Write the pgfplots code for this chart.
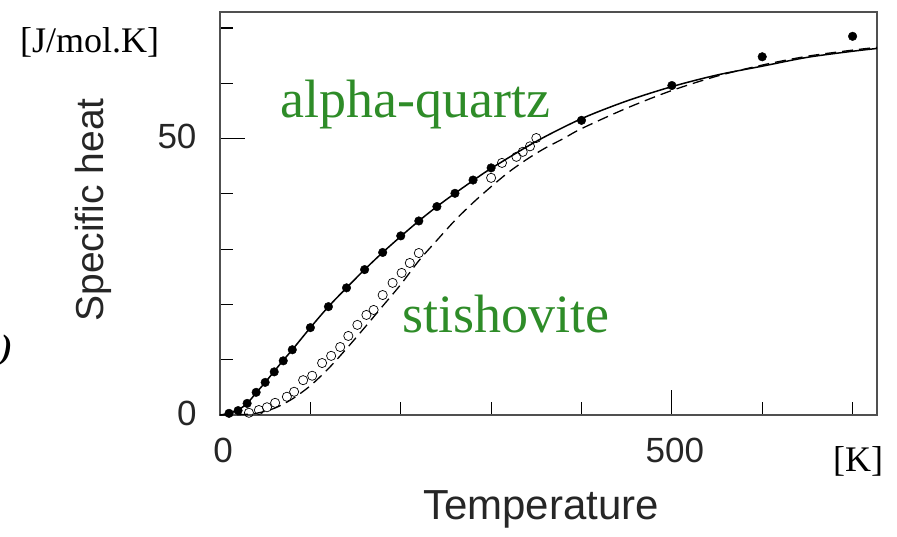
\documentclass[border=0pt]{standalone}
\usepackage{fontspec}
\setmainfont{Liberation Sans}
\newfontfamily\tnr{Liberation Serif}
\usepackage{pgfplots}
\pgfplotsset{compat=1.18}
\definecolor{lblgreen}{RGB}{46,140,40}
\definecolor{axgray}{RGB}{80,80,80}
\begin{document}
\begin{tikzpicture}
\begin{axis}[
  name=ax, at={(0,0)}, anchor=south west,
  scale only axis, width=657pt, height=403pt,
  xmin=0, xmax=727, ymin=0, ymax=72.9,
  axis line style={axgray, line width=1.2pt},
  tick align=inside, xtick pos=bottom, ytick pos=left,
  xtick={0,500}, minor xtick={100,200,300,400,600,700},
  ytick={0,50}, minor ytick={10,20,30,40,60,70},
  major tick length=25pt, minor tick length=13pt,
  every tick/.style={black, line width=1.1pt},
  /pgf/number format/assume math mode=true,
  ticklabel style={font=\fontsize{35}{40}\selectfont, text=black!85},
  xticklabel style={yshift=-20pt, xshift=3pt},
  yticklabel style={xshift=-20pt, yshift=2pt},
  clip=false,
]
% alpha-quartz model (solid)
\addplot[black, line width=1.5pt, smooth, tension=0.5] coordinates {
(0,0) (10,0.3) (20,0.9) (30,2.1) (40,4.0) (50,5.9) (60,7.9) (70,9.9) (80,11.8)
(100,15.8) (120,19.6) (140,23.0) (160,26.3) (180,29.4) (200,32.3) (220,35.1)
(240,37.7) (260,40.1) (280,42.4) (300,44.6) (350,49.5) (400,53.6) (450,56.8)
(500,59.4) (550,61.5) (600,63.1) (650,64.7) (700,65.8) (727,66.3)};
% stishovite model (dashed)
\addplot[black, line width=1.3pt, dash pattern=on 11pt off 6pt, smooth, tension=0.5] coordinates {
(0,0) (20,0.05) (40,0.3) (60,1.2) (80,2.9) (100,5.3) (120,8.4) (140,12.0)
(160,15.8) (180,19.7) (200,23.6) (220,27.9) (240,31.6) (260,35.2) (280,38.4)
(300,41.3) (320,44.0) (340,46.3) (360,48.3) (380,50.0) (400,51.8) (450,55.5)
(500,58.7) (550,61.3) (600,63.3) (650,64.9) (700,66.0) (727,66.5)};
% alpha-quartz data (filled)
\addplot[only marks, mark=*, mark size=4.3pt, black] coordinates {
(10,0.3) (20,0.8) (30,2.1) (40,4.1) (50,5.9) (60,7.8) (70,9.8) (80,11.8)
(100,15.8) (120,19.6) (140,23.0) (160,26.3) (180,29.4) (200,32.4) (220,35.1)
(240,37.7) (260,40.1) (280,42.5) (300,44.7) (400,53.3) (500,59.6) (600,64.8) (700,68.5)};
% stishovite data (open)
\addplot[only marks, mark=o, mark size=4.6pt, black, line width=0.7pt] coordinates {
(32,0.4) (43,0.9) (52,1.4) (61,2.2) (74,3.3) (82,4.2) (92,6.3) (102,7.1)
(113,9.4) (123,10.7) (133,12.3) (142,14.3) (152,16.3) (162,18.1) (170,19.0)
(180,21.7) (191,23.9) (201,25.7) (210,27.5) (220,29.3)
(300,42.9) (312,45.6) (328,46.7) (335,47.6) (343,48.6) (350,50.1)};
\end{axis}
\node[anchor=base west, inner sep=0, text=lblgreen, font=\tnr\fontsize{54}{60}\selectfont] at (60pt,297pt) {alpha-quartz};
\node[anchor=base west, inner sep=0, text=lblgreen, font=\tnr\fontsize{54}{60}\selectfont] at (182pt,82pt) {stishovite};
\node[anchor=base west, inner sep=0, font=\tnr\fontsize{36}{40}\selectfont] at (-200pt,362pt) {[J/mol.K]};
\node[anchor=base west, inner sep=0, font=\tnr\fontsize{36}{40}\selectfont] at (613pt,-57pt) {[K]};
\node[anchor=base, inner sep=0, font=\fontsize{42}{46}\selectfont, text=black!85] at (321pt,-105pt) {Temperature};
\node[rotate=90, anchor=center, inner sep=0, font=\fontsize{39}{44}\selectfont, text=black!85] at (-127pt,205pt) {Specific heat};
\node[anchor=west, inner sep=0, font=\tnr\bfseries\itshape\fontsize{34}{40}\selectfont] at (-219pt,65pt) {)};
\pgfresetboundingbox
\path[use as bounding box] (-220pt,-122pt) rectangle (677pt,415pt);
\end{tikzpicture}
\end{document}
